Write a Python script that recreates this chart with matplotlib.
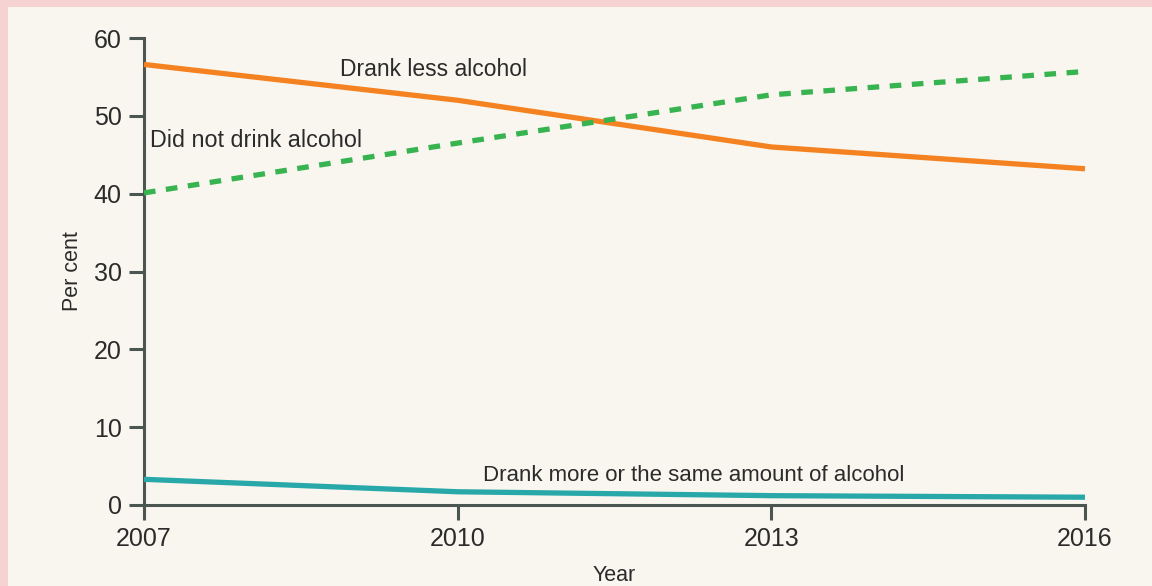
import matplotlib
matplotlib.use("Agg")
import matplotlib.pyplot as plt
from matplotlib.patches import Rectangle

plt.rcParams['font.family'] = ['Liberation Sans', 'DejaVu Sans']

years = [2007, 2010, 2013, 2016]
drank_less = [56.6, 52.0, 46.0, 43.2]
did_not_drink = [40.1, 46.5, 52.7, 55.7]
drank_more_same = [3.3, 1.7, 1.2, 1.0]

x_ticks = [2007, 2010, 2013, 2016]
y_ticks = [0, 10, 20, 30, 40, 50, 60]

BG = '#f9f6ef'
BORDER = '#f7d2d3'
SPINE = '#4b5551'
TEXT = '#2b2b2b'
ORANGE = '#f58220'
GREEN = '#37b34f'
TEAL = '#29a8aa'

W, H = 1152, 586
fig = plt.figure(figsize=(W / 100, H / 100), dpi=100)
fig.patch.set_facecolor(BORDER)
# cream panel inside the pink frame
fig.patches.append(Rectangle((8 / W, 0), 1 - 8 / W, 1 - 7 / H,
                             transform=fig.transFigure, facecolor=BG,
                             edgecolor='none', zorder=-10))

ax = fig.add_axes([144 / W, (H - 505) / H, (1085 - 144) / W, (505 - 38) / H])
ax.set_zorder(5)
ax.set_facecolor('none')

ax.plot(years, drank_less, color=ORANGE, lw=3.8, solid_joinstyle='round',
        solid_capstyle='butt', zorder=3, clip_on=False)
ax.plot(years, did_not_drink, color=GREEN, lw=3.8, linestyle=(0, (2.2, 2.0)),
        dash_capstyle='butt', zorder=3, clip_on=False)
ax.plot(years, drank_more_same, color=TEAL, lw=3.8, solid_joinstyle='round',
        solid_capstyle='butt', zorder=3, clip_on=False)

ax.set_xlim(2007, 2016)
ax.set_ylim(0, 60)
ax.set_xticks(x_ticks)
ax.set_yticks(y_ticks)
ax.set_xticklabels([str(v) for v in x_ticks])
ax.set_yticklabels([str(v) for v in y_ticks])

for side in ('top', 'right'):
    ax.spines[side].set_visible(False)
for side in ('left', 'bottom'):
    ax.spines[side].set_color(SPINE)
    ax.spines[side].set_linewidth(2.2)
    ax.spines[side].set_zorder(2)

ax.tick_params(axis='both', direction='out', length=11, width=2.2,
               color=SPINE, labelcolor=TEXT, labelsize=18, pad=5)

ax.set_xlabel('Year', fontsize=15.5, color=TEXT, labelpad=10)
ax.set_ylabel('Per cent', fontsize=15.5, color=TEXT, labelpad=8)

ax.text(2008.875, 55.1, 'Drank less alcohol', fontsize=16.5, color=TEXT,
        ha='left', va='baseline')
ax.text(2007.06, 46.05, 'Did not drink alcohol', fontsize=16.8, color=TEXT,
        ha='left', va='baseline')
ax.text(2010.24, 3.12, 'Drank more or the same amount of alcohol',
        fontsize=16.0, color=TEXT, ha='left', va='baseline')

fig.savefig('out.png', dpi=100, facecolor=fig.get_facecolor())
